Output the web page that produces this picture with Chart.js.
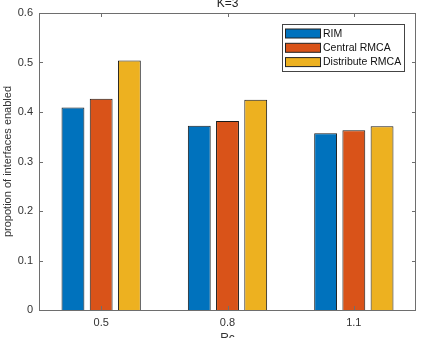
<!DOCTYPE html>
<html lang="en">
<head>
  <meta charset="UTF-8">
  <title>K=3</title>
  <script src="https://cdn.jsdelivr.net/npm/chart.js"></script>
  <style>
    body { margin: 0; background: #fff; }
    #chartBox { width: 422px; height: 338px; }
  </style>
</head>
<body>
  <div id="chartBox"><canvas id="barChart" width="422" height="338"></canvas></div>

  <script>
    // data
    const rcLabels = ['0.5', '0.8', '1.1'];
    const rimValues = [0.409, 0.372, 0.357];
    const centralValues = [0.427, 0.382, 0.363];
    const distributeValues = [0.504, 0.425, 0.371];
    const seriesNames = ['RIM', 'Central RMCA', 'Distribute RMCA'];
    const yTicks = [0, 0.1, 0.2, 0.3, 0.4, 0.5, 0.6];

    const colors = ['#0072BD', '#D95319', '#EDB120'];
    const font = 'Liberation Sans, Arial, sans-serif';

    // matlab-ish box, inward ticks, title and legend inside the axes
    const matlabBox = {
      id: 'matlabBox',
      afterDraw(chart) {
        const c = chart.ctx;
        const a = chart.chartArea;
        const xs = chart.scales.x, ys = chart.scales.y;
        const bl = a.left + 1, br = a.right - 1;
        c.save();
        c.strokeStyle = '#6e6e6e';
        c.lineWidth = 1;
        c.strokeRect(bl + 0.5, a.top + 0.5, br - bl - 1, a.bottom - a.top);
        c.beginPath();
        yTicks.forEach(v => {
          const y = Math.round(ys.getPixelForValue(v)) + 0.5;
          c.moveTo(bl, y); c.lineTo(bl + 4, y);
          c.moveTo(br, y); c.lineTo(br - 4, y);
        });
        rcLabels.forEach((l, i) => {
          const x = Math.round(xs.getPixelForValue(i)) + 0.5;
          c.moveTo(x, a.bottom); c.lineTo(x, a.bottom - 4);
          c.moveTo(x, a.top); c.lineTo(x, a.top + 4);
        });
        c.stroke();

        // title
        c.fillStyle = '#222';
        c.font = '12px ' + font;
        c.textAlign = 'center';
        c.textBaseline = 'middle';
        c.fillText('K=3', (bl + br) / 2, 4);

        // legend
        const lx = 282, ly = 24, lw = 122, lh = 47;
        c.fillStyle = '#fff';
        c.fillRect(lx, ly, lw, lh);
        c.strokeStyle = '#444';
        c.strokeRect(lx + 0.5, ly + 0.5, lw, lh);
        c.font = '10.5px ' + font;
        c.textAlign = 'left';
        chart.data.datasets.forEach((ds, i) => {
          const py = 29 + i * 14.3;
          c.fillStyle = ds.backgroundColor;
          c.fillRect(285.5, py, 35, 9);
          c.strokeStyle = '#222';
          c.strokeRect(285.5, py, 35, 9);
          c.fillStyle = '#111';
          c.fillText(ds.label, 323, py + 5);
        });
        c.restore();
      }
    };

    const ctx = document.getElementById('barChart').getContext('2d');
    new Chart(ctx, {
      type: 'bar',
      data: {
        labels: rcLabels,
        datasets: [
          { label: seriesNames[0], data: rimValues, backgroundColor: colors[0] },
          { label: seriesNames[1], data: centralValues, backgroundColor: colors[1] },
          { label: seriesNames[2], data: distributeValues, backgroundColor: colors[2] }
        ].map(d => Object.assign(d, {
          borderColor: '#1a1a1a',
          borderWidth: 1,
          categoryPercentage: 0.67,
          barPercentage: 0.81
        }))
      },
      options: {
        responsive: false,
        animation: false,
        layout: { padding: { top: 13, right: 5, left: 0, bottom: 0 } },
        plugins: {
          legend: { display: false },
          tooltip: { enabled: false }
        },
        scales: {
          x: {
            grid: { display: false, drawTicks: false },
            border: { display: false },
            ticks: { color: '#333', font: { family: font, size: 11 }, padding: 6 },
            title: {
              display: true, text: 'Rc', color: '#333',
              font: { family: font, size: 12 },
              padding: { top: 0, bottom: -8 }
            },
            afterFit(scale) { scale.height = 28; }
          },
          y: {
            min: 0, max: 0.6,
            grid: { display: false, drawTicks: false },
            border: { display: false },
            ticks: {
              stepSize: 0.1, color: '#333', padding: 5,
              font: { family: font, size: 11 },
              callback: v => Math.round(v * 10) / 10
            },
            title: {
              display: true, text: 'propotion of interfaces enabled', color: '#333',
              font: { family: font, size: 11 },
              padding: { top: 1, bottom: 0 }
            },
            afterFit(scale) { scale.width = 38; }
          }
        }
      },
      plugins: [matlabBox]
    });
  </script>
</body>
</html>
